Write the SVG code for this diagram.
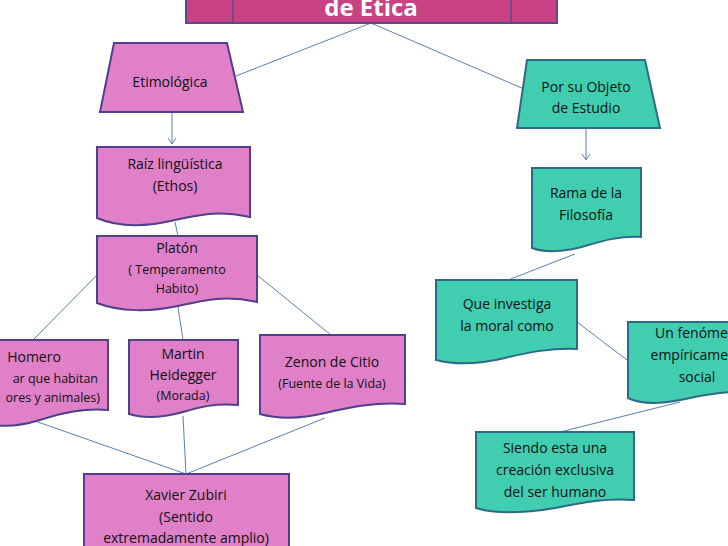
<svg xmlns="http://www.w3.org/2000/svg" width="728" height="546" viewBox="0 0 728 546">
<style>
.p{fill:#e080c8;stroke:#4f3f8c;stroke-width:2}
.t{fill:#40cdb0;stroke:#2e6a88;stroke-width:2}
text{font-family:"Open Sans","Liberation Sans",sans-serif;font-size:14px;fill:#111;text-anchor:middle}
.s{font-size:12.5px}
.c line{stroke:#5b7fb0;stroke-width:1}
</style>
<defs><marker id="a" markerWidth="10" markerHeight="10" refX="8" refY="5" orient="auto" markerUnits="userSpaceOnUse"><path d="M2,1 L8,5 L2,9" fill="none" stroke="#5b7fb0" stroke-width="1"/></marker></defs>
<rect width="728" height="546" fill="#fff"/>
<g class="c">
<line x1="371" y1="23" x2="236" y2="76"/>
<line x1="371" y1="23" x2="524" y2="89"/>
<line x1="172" y1="112" x2="172" y2="144" marker-end="url(#a)"/>
<line x1="586" y1="128" x2="586" y2="160" marker-end="url(#a)"/>
<line x1="175" y1="222" x2="178" y2="236"/>
<line x1="97" y1="275" x2="33" y2="340"/>
<line x1="178" y1="307" x2="183" y2="340"/>
<line x1="257" y1="275" x2="331" y2="335"/>
<line x1="35" y1="421" x2="186" y2="474"/>
<line x1="183" y1="416" x2="186" y2="474"/>
<line x1="325" y1="418" x2="186" y2="474"/>
<line x1="575" y1="254" x2="508" y2="280"/>
<line x1="577" y1="322" x2="627" y2="360"/>
<line x1="680" y1="402" x2="560" y2="432"/>
</g>
<g id="title">
<rect x="186" y="-10" width="371" height="33" fill="#c94283" stroke="#5a4a8a" stroke-width="2"/>
<line x1="233" y1="-10" x2="233" y2="23" stroke="#5a4a8a" stroke-width="1.5"/>
<line x1="511" y1="-10" x2="511" y2="23" stroke="#5a4a8a" stroke-width="1.5"/>
<text x="371" y="16" style="font-size:24px;font-weight:bold;fill:#fff">de Ética</text>
</g>
<g id="etimologica">
<path class="p" d="M114,43 L227,43 L243,112 L100,112 Z"/>
<text x="170" y="87">Etimológica</text>
</g>
<g id="objeto">
<path class="t" d="M527,60 L645,60 L660,128 L517,128 Z"/>
<text x="586" y="92">Por su Objeto</text><text x="586" y="113">de Estudio</text>
</g>
<g id="raiz">
<path class="p" d="M97,147 H250 V217 C215,210 200,215 175,220 C150,226 120,228 97,218 Z"/>
<text x="175" y="169">Raíz lingüística</text><text x="175" y="191">(Ethos)</text>
</g>
<g id="platon">
<path class="p" d="M97,236 H257 V302 C225,295 205,300 178,306 C150,312 120,312 97,303 Z"/>
<text x="177" y="253">Platón</text><text x="177" y="274" class="s">( Temperamento</text><text x="177" y="293" class="s">Habito)</text>
</g>
<g id="homero">
<path class="p" d="M-10,340 H108 V410 C85,408 65,412 40,420 C20,426 5,428 -10,424 Z"/>
<text x="34" y="362">Homero</text>
<text x="98" y="383" class="s" style="text-anchor:end">ar que habitan</text>
<text x="100" y="402" class="s" style="text-anchor:end">ores y animales)</text>
</g>
<g id="heidegger">
<path class="p" d="M129,340 H238 V405 C215,403 200,407 183,412 C165,417 145,419 129,414 Z"/>
<text x="183" y="359">Martin</text><text x="183" y="380">Heidegger</text><text x="183" y="400" class="s">(Morada)</text>
</g>
<g id="zenon">
<path class="p" d="M260,335 H405 V404 C375,402 350,407 325,413 C300,419 278,419 260,414 Z"/>
<text x="332" y="367">Zenon de Citio</text><text x="332" y="388" class="s">(Fuente de la Vida)</text>
</g>
<g id="xavier">
<rect class="p" x="84" y="474" width="205" height="80"/>
<text x="186" y="500">Xavier Zubiri</text><text x="186" y="522">(Sentido</text><text x="186" y="543">extremadamente amplio)</text>
</g>
<g id="rama">
<path class="t" d="M532,168 H641 V237 C620,236 605,240 585,246 C565,252 545,253 532,248 Z"/>
<text x="586" y="198">Rama de la</text><text x="586" y="220">Filosofía</text>
</g>
<g id="que">
<path class="t" d="M436,280 H577 V349 C550,348 530,352 505,358 C480,364 455,365 436,360 Z"/>
<text x="507" y="309">Que investiga</text><text x="507" y="331">la moral como</text>
</g>
<g id="fenomeno">
<path class="t" d="M628,322 H735 V392 C715,392 700,396 680,400 C660,404 640,404 628,398 Z"/>
<text x="700" y="338">Un fenómeno</text><text x="700" y="360">empíricamente</text><text x="697" y="382">social</text>
</g>
<g id="siendo">
<path class="t" d="M476,432 H634 V500 C605,498 585,502 555,508 C525,513 495,514 476,508 Z"/>
<text x="555" y="453">Siendo esta una</text><text x="555" y="475">creación exclusiva</text><text x="555" y="497">del ser humano</text>
</g>
</svg>
